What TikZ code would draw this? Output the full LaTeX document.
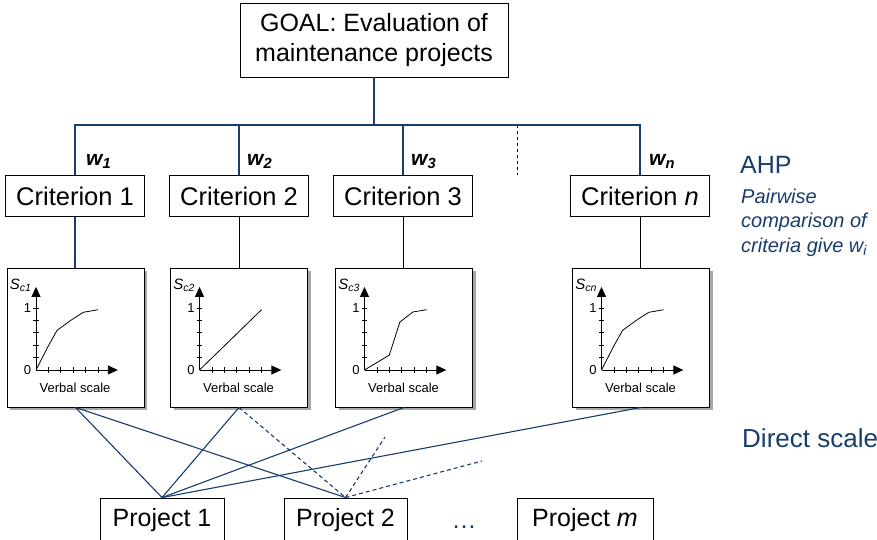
\documentclass[tikz,border=0pt]{standalone}
\usepackage{fontspec}
\setmainfont{Liberation Sans}
\usetikzlibrary{arrows.meta,shadows}

\definecolor{ahpblue}{RGB}{24,60,108}

% axes, ticks and curve of one value function
\newcommand{\scaleaxes}[3]{%
  \begin{scope}[shift={(#1)},x=12.4pt,y=12.4pt]
    \draw[axis] (0,0) -- (0,6.7);
    \draw[axis] (0,0) -- (6.6,0);
    \foreach \k in {1,...,5} {
      \draw[line width=0.7pt] (-0.22,\k) -- (0.22,\k);
      \draw[line width=0.7pt] (\k,-0.22) -- (\k,0.22);
    }
    \node[chartlbl,anchor=east] at (-0.3,5) {1};
    \node[chartlbl,anchor=east] at (-0.3,0) {0};
    \node[chartlbl,anchor=east,inner sep=0pt] at (-0.35,6.85)
      {\fontsize{15}{17}\selectfont\textit{S}\textsubscript{\textit{#2}}};
    \node[chartlbl] at (3.15,-1.4) {Verbal scale};
    \draw[line width=0.8pt] (0,0) -- #3;
  \end{scope}}

\begin{document}
\begin{tikzpicture}[x=1pt,y=-1pt,
    box/.style={draw,line width=0.9pt,fill=white,inner sep=2pt},
    goalbox/.style={box,minimum width=268pt,minimum height=74pt,align=center,
      font=\fontsize{25}{30}\selectfont},
    critbox/.style={box,minimum width=139pt,minimum height=41pt,
      font=\fontsize{25.5}{30}\selectfont},
    chartbox/.style={box,minimum width=137pt,minimum height=139pt,
      drop shadow={shadow xshift=3pt,shadow yshift=-3pt,fill=black!35,opacity=1}},
    projbox/.style={box,minimum height=44pt,font=\fontsize{25}{30}\selectfont},
    link/.style={draw=ahpblue,line width=1.1pt},
    dashlink/.style={link,dash pattern=on 4pt off 3pt},
    axis/.style={line width=0.9pt,-{Triangle[length=10pt,width=9pt]}},
    weight/.style={anchor=base west,inner sep=0pt,font=\fontsize{21}{24}\selectfont\bfseries\itshape},
    chartlbl/.style={font=\fontsize{13}{15}\selectfont,inner sep=1pt},
    note/.style={anchor=base west,inner sep=0pt,text=ahpblue}]
  \useasboundingbox (0,0) rectangle (877,540);
  \clip (0,0) rectangle (877,540);

  % hierarchy
  \node[goalbox] (goal) at (374,40) {GOAL: Evaluation of\\maintenance projects};
  \node[critbox] (c1) at (75,196) {Criterion 1};
  \node[critbox] (c2) at (239,196) {Criterion 2};
  \node[critbox] (c3) at (403,196) {Criterion 3};
  \node[critbox] (cn) at (640,196) {Criterion \textit{n}};
  \coordinate (bar) at (374,125);
  \coordinate (gap) at (517,125);

  \draw[link] (goal.south) -- (bar);
  \draw[link] (c1.north) -- (c1.north |- bar) -- (cn.north |- bar) -- (cn.north);
  \draw[link] (c2.north) -- (c2.north |- bar);
  \draw[link] (c3.north) -- (c3.north |- bar);
  \draw[line width=0.8pt,dashed] (gap) -- (gap |- c1.north);

  \node[weight] (w1) at (86,165) {w\textsubscript{1}};
  \node[weight] (w2) at (247,165) {w\textsubscript{2}};
  \node[weight] (w3) at (411,165) {w\textsubscript{3}};
  \node[weight] (wn) at (649,165) {w\textsubscript{n}};

  % value functions
  \node[chartbox] (s1) at (75.5,337.5) {};
  \node[chartbox] (s2) at (239,337.5) {};
  \node[chartbox] (s3) at (404,337.5) {};
  \node[chartbox] (sn) at (641,337.5) {};
  \draw[link] (c1.south) -- (c1.south |- s1.north);
  \draw[line width=0.9pt] (c2.south) -- (c2.south |- s2.north);
  \draw[line width=0.9pt] (c3.south) -- (c3.south |- s3.north);
  \draw[line width=0.9pt] (cn.south) -- (cn.south |- sn.north);

  \coordinate (o1) at (36,370);
  \coordinate (o2) at (199.5,370);
  \coordinate (o3) at (364.5,370);
  \coordinate (on) at (601.5,370);
  \scaleaxes{o1}{c1}{(1,1.95) -- (1.7,3.2) -- (2.8,4) -- (3.8,4.65) -- (5,4.86)}
  \scaleaxes{o2}{c2}{(5,4.86)}
  \scaleaxes{o3}{c3}{(2,1.2) -- (2.85,3.86) -- (3.9,4.68) -- (5,4.86)}
  \scaleaxes{on}{cn}{(1,1.95) -- (1.7,3.2) -- (2.8,4) -- (3.8,4.65) -- (5,4.86)}

  % alternatives
  \node[projbox,minimum width=124pt] (p1) at (162,520) {Project 1};
  \node[projbox,minimum width=123pt] (p2) at (345.5,520) {Project 2};
  \node[projbox,minimum width=136pt] (pm) at (585,520) {Project \textit{m}};
  \node[text=ahpblue,font=\fontsize{25}{30}\selectfont] (dots) at (464,527) {\dots};
  \coordinate (e1) at (385,437);
  \coordinate (e2) at (482,461);

  \draw[link] (s1.south) -- (p1.north);
  \draw[link] (s1.south) -- (p2.north);
  \draw[link] (s2.south) -- (p1.north);
  \draw[link] (s3.south) -- (p1.north);
  \draw[link] (sn.south) -- (p1.north);
  \draw[dashlink] (s2.south) -- (p2.north);
  \draw[dashlink] (p2.north) -- (e1);
  \draw[dashlink] (p2.north) -- (e2);

  % side notes
  \node[note,font=\fontsize{25}{30}\selectfont] (ahp) at (740,173) {AHP};
  \node[note,font=\fontsize{20}{24}\selectfont\itshape] (pw1) at (741,203) {Pairwise};
  \node[note,font=\fontsize{20}{24}\selectfont\itshape] (pw2) at (741,227.5) {comparison of};
  \node[note,font=\fontsize{20}{24}\selectfont\itshape] (pw3) at (741,252) {criteria give w\textsubscript{i}};
  \node[note,font=\fontsize{26}{30}\selectfont] (direct) at (742,447) {Direct scale};
\end{tikzpicture}
\end{document}
